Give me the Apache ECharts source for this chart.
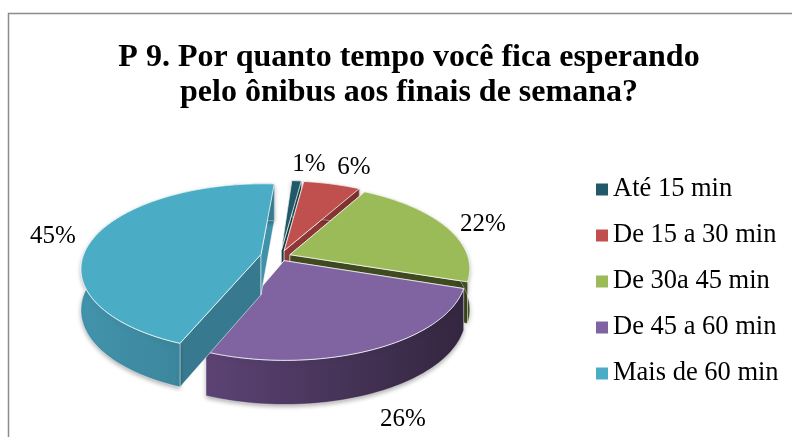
<!DOCTYPE html>
<html><head><meta charset="utf-8">
<style>html,body{margin:0;padding:0;background:#fff}#c{width:792px;height:437px}</style>
<script src="https://cdn.jsdelivr.net/npm/echarts@6/dist/echarts.min.js"></script></head>
<body><div id="c"></div>
<script>
const categories = ['Até 15 min','De 15 a 30 min','De 30a 45 min','De 45 a 60 min','Mais de 60 min'];
const values = [1,6,22,26,45];
const titleLines = ['P 9. Por quanto tempo você fica esperando','pelo ônibus aos finais de semana?'];

const FONT = '"Liberation Serif","Times New Roman",serif';
const colors = ['#215968','#c0504d','#9bbb59','#8064a2','#4bacc6'];
const startDeg = 4;
const explode = [.08,.075,.06,.055,.11];
const drawZ = [1,2,3,4,5];
const P = {cx:280,cy:256.5,A:178,B:82.5,p:.158,depthFront:44,depthBack:37};
const radialEndColor = ['#163c47','#8c3836','#404a20','#4d3a63','#3f92a9'];
const radialStartColor = ['#163c47','#8c3836','#5c6f33','#4d3a63','#377a90'];
const wallGrad = [
  ['#1c4c59','#163c47'],['#963c3a','#7a2f2d'],['#5c7033','#414f24'],
  ['#5c4374','#33263f'],['#4193ab','#377a90']];
const labelPos = [[309,164],[354,167],[483,224],[403,419],[53,236]];

function proj(X,Y,down){
  const w = 1-P.p*Y;
  const d = down ? P.depthBack+(P.depthFront-P.depthBack)*(Y+1)/2 : 0;
  return [P.cx+P.A*X/w, P.cy+P.B*Y/w+d];
}
const total = values.reduce((a,b)=>a+b,0);
const spans = []; let acc = startDeg;
values.forEach(v=>{spans.push([acc,acc+v/total*360]);acc+=v/total*360;});

function renderSlice(i,api){
  const [a0,a1]=spans[i];
  const mid=(a0+a1)/2*Math.PI/180, e=explode[i];
  const ox=e*Math.sin(mid), oy=-e*Math.cos(mid);
  const arc=[];
  const n=Math.max(4,Math.round((a1-a0)/1.5));
  for(let k=0;k<=n;k++){const t=(a0+(a1-a0)*k/n)*Math.PI/180;arc.push([ox+Math.sin(t),oy-Math.cos(t)]);}
  const top=arc.map(q=>proj(q[0],q[1],false));
  const bot=arc.map(q=>proj(q[0],q[1],true));
  const at=proj(ox,oy,false), ab=proj(ox,oy,true);
  const edge='rgba(255,255,255,.75)';
  const xs=bot.map(q=>q[0]);
  const gx0=Math.min(...xs), gx1=Math.max(...xs);
  const wall=[...top,...bot.slice().reverse()];
  const children=[
    {type:'polygon',shape:{points:[at,top[0],bot[0],ab]},style:{fill:radialStartColor[i],stroke:edge,lineWidth:.7}},
    {type:'polygon',shape:{points:[at,top[n],bot[n],ab]},style:{fill:radialEndColor[i],stroke:edge,lineWidth:.7}},
    {type:'polygon',shape:{points:wall},style:{
      fill:new echarts.graphic.LinearGradient(gx0,0,gx1,0,[{offset:0,color:wallGrad[i][0]},{offset:1,color:wallGrad[i][1]}],true),
      stroke:'rgba(255,255,255,.55)',lineWidth:.7,shadowColor:'rgba(0,0,0,.3)',shadowBlur:4,shadowOffsetY:2}},
    {type:'polygon',shape:{points:[at,...top]},style:{fill:colors[i],stroke:edge,lineWidth:1}},
    {type:'text',style:{text:values[i]+'%',x:labelPos[i][0],y:labelPos[i][1],align:'center',verticalAlign:'middle',font:'25px '+FONT,fill:'#000'},z2:50}
  ];
  return {type:'group',children};
}
const chart=echarts.init(document.getElementById('c'),null,{renderer:'canvas'});
chart.setOption({
  animation:false,
  backgroundColor:'#fff',
  title:{text:titleLines.join('\n'),left:404,top:35,textAlign:'center',
    textStyle:{fontFamily:FONT,fontWeight:'bold',fontSize:32,lineHeight:35,color:'#000'}},
  legend:{orient:'vertical',left:591,top:171,itemWidth:12,itemHeight:12,itemGap:19,icon:'rect',selectedMode:false,
    data:categories,textStyle:{fontFamily:FONT,fontSize:26.5,color:'#000'}},
  graphic:[{type:'polyline',silent:true,shape:{points:[[8.5,437],[8.5,13.5],[792,13.5]]},style:{stroke:'#8c8c8c',lineWidth:1.5,fill:null}}],
  series:categories.map((name,i)=>({
    type:'custom',name,coordinateSystem:'none',z:drawZ[i]+2,
    itemStyle:{color:colors[i]},
    data:[[values[i]]],
    renderItem:(params,api)=>renderSlice(i,api)
  }))
});
</script></body></html>
